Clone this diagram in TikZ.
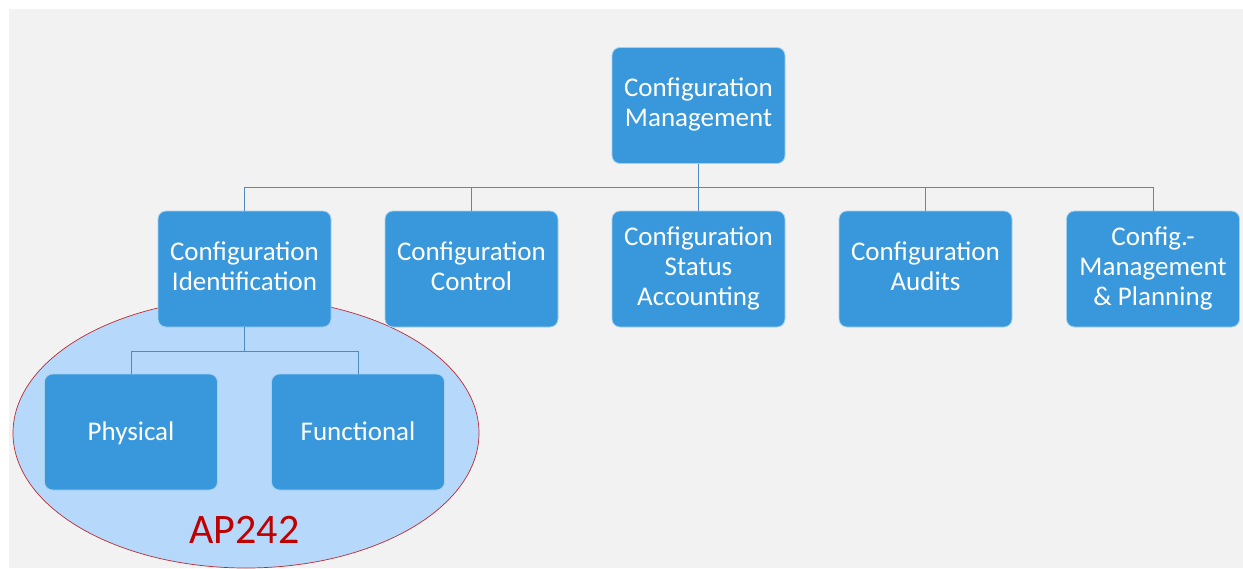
\documentclass[tikz,border=0pt]{standalone}
\usepackage{fontspec}
\setmainfont{Carlito}
\usepackage{tikz}
\usetikzlibrary{calc}
\definecolor{cm-blue}{RGB}{56,152,219}
\definecolor{ap-blue}{RGB}{181,216,251}
\definecolor{ap-red}{RGB}{192,0,0}
\definecolor{link-blue}{RGB}{80,138,190}
\definecolor{page-grey}{RGB}{242,242,242}
\newcommand{\boxstrut}{\rule[-6.5pt]{0pt}{30pt}}
\tikzset{
	cmbox/.style={rounded corners=8pt, fill=cm-blue, draw=white!55!cm-blue, line width=0.8pt, text=white, align=center, minimum width=173pt, minimum height=116pt, inner sep=0pt, font=\fontsize{27}{30}\selectfont, execute at begin node=\boxstrut, execute at end node=\boxstrut}
}
\tikzstyle{link}=[draw=link-blue, line width=1pt]

\begin{document}
\begin{tikzpicture}[x=1pt,y=-1pt]
	\useasboundingbox (0,0) rectangle (1243,568);
	\fill[white] (0,0) rectangle (1243,568);
	\fill[page-grey] (9,9) rectangle (1243,568);
	\draw[fill=ap-blue, draw=ap-red!80!ap-blue, line width=0.7pt] (246,433) ellipse [x radius=233pt, y radius=135pt];
	\node[cmbox] (cm) at (698.5,105.5) {Configuration\\Management};
	\node[cmbox] (ident) at (244.5,269) {Configuration\\Identification};
	\node[cmbox] (control) at (471.5,269) {Configuration\\Control};
	\node[cmbox] (status) at (698.5,269) {Configuration\\Status\\Accounting};
	\node[cmbox] (audits) at (925.5,269) {Configuration\\Audits};
	\node[cmbox] (planning) at (1153,269) {Config.-\\Management\\\& Planning};
	\node[cmbox] (phys) at (131,432) {Physical};
	\node[cmbox] (func) at (358,432) {Functional};
	\draw[link] (cm.south) -- ++(0,24) -| (ident.north);
	\draw[link] (cm.south) -- ++(0,24) -| (control.north);
	\draw[link] (cm.south) -- (status.north);
	\draw[link] (cm.south) -- ++(0,24) -| (audits.north);
	\draw[link] (cm.south) -- ++(0,24) -| (planning.north);
	\draw[link] (ident.south) -- ++(0,24) -| (phys.north);
	\draw[link] (ident.south) -- ++(0,24) -| (func.north);
	\node[text=ap-red, anchor=base, inner sep=0pt, font=\fontsize{42}{42}\selectfont] (ap) at (244.5,543) {AP242};
\end{tikzpicture}
\end{document}
